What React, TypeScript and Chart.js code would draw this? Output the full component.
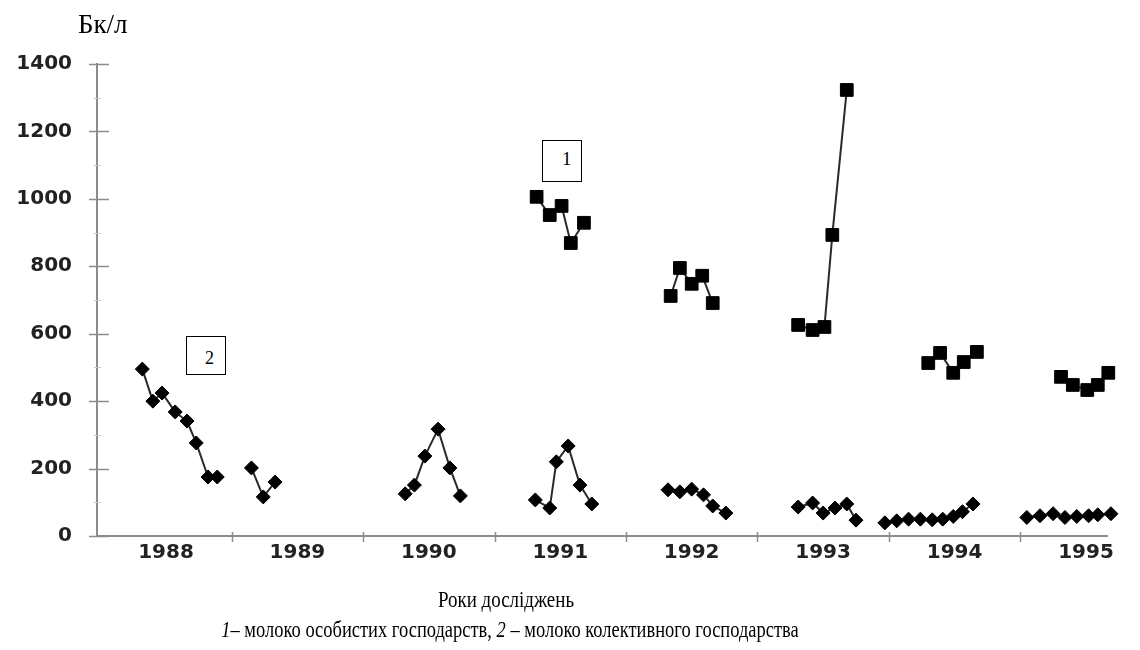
import React, { useEffect, useRef } from "react";
import { Chart, registerables } from "chart.js";

Chart.register(...registerables);

// ---- data (decimal years on x, Bq/l on y; null = break between sampling periods) ----
const yearLabels = [1988, 1989, 1990, 1991, 1992, 1993, 1994, 1995];
const yTickValues = [0, 200, 400, 600, 800, 1000, 1200, 1400];

// 1 – milk of private households (squares)
const privateDates = [
  1991.32, 1991.42, 1991.51, 1991.58, 1991.68, null,
  1992.34, 1992.41, 1992.5, 1992.58, 1992.66, null,
  1993.31, 1993.42, 1993.51, 1993.57, 1993.68, null,
  1994.3, 1994.39, 1994.49, 1994.57, 1994.67, null,
  1995.31, 1995.4, 1995.51, 1995.59, 1995.67,
];
const privateValues = [
  1006, 952, 979, 869, 929, null,
  712, 795, 748, 772, 691, null,
  626, 611, 620, 893, 1323, null,
  513, 543, 484, 516, 546, null,
  472, 448, 433, 448, 484,
];

// 2 – milk of the collective farm (diamonds)
const collectiveDates = [
  1988.32, 1988.4, 1988.47, 1988.57, 1988.66, 1988.73, 1988.82, 1988.89, null,
  1989.15, 1989.24, 1989.33, null,
  1990.32, 1990.39, 1990.47, 1990.57, 1990.66, 1990.74, null,
  1991.31, 1991.42, 1991.47, 1991.56, 1991.65, 1991.74, null,
  1992.32, 1992.41, 1992.5, 1992.59, 1992.66, 1992.76, null,
  1993.31, 1993.42, 1993.5, 1993.59, 1993.68, 1993.75, null,
  1993.97, 1994.06, 1994.15, 1994.24, 1994.33, 1994.41, 1994.49, 1994.56, 1994.64, null,
  1995.05, 1995.15, 1995.25, 1995.34, 1995.43, 1995.52, 1995.59, 1995.69,
];
const collectiveValues = [
  495, 400, 424, 368, 341, 276, 175, 175, null,
  202, 116, 160, null,
  125, 151, 237, 317, 202, 119, null,
  107, 83, 220, 267, 151, 95, null,
  137, 131, 139, 122, 89, 68, null,
  86, 98, 68, 83, 95, 47, null,
  39, 45, 50, 50, 48, 50, 58, 72, 95, null,
  55, 60, 66, 55, 58, 60, 63, 66,
];

const toPoints = (xs: (number | null)[], ys: (number | null)[]) =>
  xs.map((x, i) => ({ x: x, y: ys[i] }));

const AXIS_COLOR = "#8c8c8c";
const TICK_FONT = { family: "DejaVu Sans", size: 20, weight: "bold" as const };

const tickMarksPlugin = {
  id: "tickMarks",
  beforeDatasetsDraw(chart: any) {
    const { ctx, chartArea, scales } = chart;
    const xs = scales.x;
    const ys = scales.y;
    ctx.save();
    ctx.strokeStyle = AXIS_COLOR;
    ctx.lineWidth = 1.5;
    ctx.beginPath();
    for (const v of yTickValues) {
      const py = Math.round(ys.getPixelForValue(v)) + 0.5;
      ctx.moveTo(chartArea.left - 8, py);
      ctx.lineTo(chartArea.left + 12, py);
    }
    for (const yr of yearLabels.slice(1)) {
      const px = Math.round(xs.getPixelForValue(yr)) + 0.5;
      ctx.moveTo(px, chartArea.bottom - 4);
      ctx.lineTo(px, chartArea.bottom + 6);
    }
    ctx.stroke();
    ctx.strokeStyle = "#c4c4c4";
    ctx.lineWidth = 1;
    ctx.beginPath();
    for (let i = 0; i < yTickValues.length - 1; i++) {
      const v = (yTickValues[i] + yTickValues[i + 1]) / 2;
      const py = Math.round(ys.getPixelForValue(v)) + 0.5;
      ctx.moveTo(chartArea.left - 3, py);
      ctx.lineTo(chartArea.left + 4, py);
    }
    ctx.stroke();
    ctx.restore();
  },
};

function MilkChart() {
  const ref = useRef<HTMLCanvasElement | null>(null);

  useEffect(() => {
    if (!ref.current) return;
    const chart = new Chart(ref.current, {
      type: "line",
      data: {
        datasets: [
          {
            label: "1",
            data: toPoints(privateDates, privateValues) as any,
            borderColor: "#2a2a2a",
            borderWidth: 2,
            pointStyle: "rect",
            pointRadius: 9,
            pointBackgroundColor: "#000",
            pointBorderColor: "#000",
            pointBorderWidth: 1,
            spanGaps: false,
            clip: false as any,
          },
          {
            label: "2",
            data: toPoints(collectiveDates, collectiveValues) as any,
            borderColor: "#2a2a2a",
            borderWidth: 2,
            pointStyle: "rectRot",
            pointRadius: 7,
            pointBackgroundColor: "#000",
            pointBorderColor: "#000",
            pointBorderWidth: 1,
            spanGaps: false,
            clip: false as any,
          },
        ],
      },
      options: {
        responsive: false,
        animation: false,
        devicePixelRatio: 1,
        layout: { padding: { left: 0, top: 64, right: 33, bottom: 74 } },
        plugins: {
          legend: { display: false },
          tooltip: { enabled: false },
        },
        scales: {
          x: {
            type: "linear",
            min: 1987.975,
            max: 1995.66,
            afterBuildTicks: (scale: any) => {
              scale.ticks = yearLabels.map((y) => ({ value: y + 0.5 }));
            },
            afterFit: (scale: any) => {
              scale.height = 40;
            },
            ticks: {
              autoSkip: false,
              maxRotation: 0,
              padding: 5,
              color: "#222",
              font: TICK_FONT,
              callback: (v: any) => String(Math.floor(Number(v))),
            },
            grid: { display: true, drawOnChartArea: false, drawTicks: false },
            border: { display: true, color: AXIS_COLOR, width: 2 },
          },
          y: {
            type: "linear",
            min: 0,
            max: 1400,
            afterFit: (scale: any) => {
              scale.width = 97;
            },
            ticks: {
              stepSize: 200,
              padding: 25,
              color: "#222",
              font: TICK_FONT,
              callback: (v: any) => String(v),
            },
            grid: { display: true, drawOnChartArea: false, drawTicks: false },
            border: { display: true, color: AXIS_COLOR, width: 2 },
          },
        },
      },
      plugins: [tickMarksPlugin],
    });
    return () => chart.destroy();
  }, []);

  return <canvas ref={ref} width={1140} height={650} style={{ position: "absolute", left: 0, top: 0 }} />;
}

const serif = '"Liberation Serif", "Times New Roman", serif';

export default function App() {
  return (
    <div
      style={{
        position: "absolute",
        left: 0,
        top: 0,
        width: 1140,
        height: 650,
        background: "#fff",
        overflow: "hidden",
        fontFamily: serif,
        color: "#000",
      }}
    >
      <MilkChart />
      <div style={{ position: "absolute", left: 78, top: 9, fontSize: 27, lineHeight: "30px" }}>Бк/л</div>
      <div
        style={{
          position: "absolute",
          left: 542,
          top: 140,
          width: 40,
          height: 42,
          boxSizing: "border-box",
          border: "1.5px solid #000",
          background: "#fff",
        }}
      >
        <span style={{ position: "absolute", left: 19, top: 8, fontSize: 19, lineHeight: "19px" }}>1</span>
      </div>
      <div
        style={{
          position: "absolute",
          left: 186,
          top: 336,
          width: 40,
          height: 39,
          boxSizing: "border-box",
          border: "1.5px solid #000",
          background: "#fff",
        }}
      >
        <span style={{ position: "absolute", left: 18, top: 12, fontSize: 18, lineHeight: "18px" }}>2</span>
      </div>
      <div
        style={{
          position: "absolute",
          left: 6,
          width: 1000,
          top: 586,
          textAlign: "center",
          fontSize: 24,
          lineHeight: "26px",
          transform: "scaleX(0.79)",
          transformOrigin: "500px 0",
        }}
      >
        Роки досліджень
      </div>
      <div
        style={{
          position: "absolute",
          left: 10,
          width: 1000,
          top: 616,
          textAlign: "center",
          fontSize: 24,
          lineHeight: "26px",
          transform: "scaleX(0.77)",
          transformOrigin: "500px 0",
          whiteSpace: "nowrap",
        }}
      >
        <i>1</i>– молоко особистих господарств, <i>2</i> – молоко колективного господарства
      </div>
    </div>
  );
}
